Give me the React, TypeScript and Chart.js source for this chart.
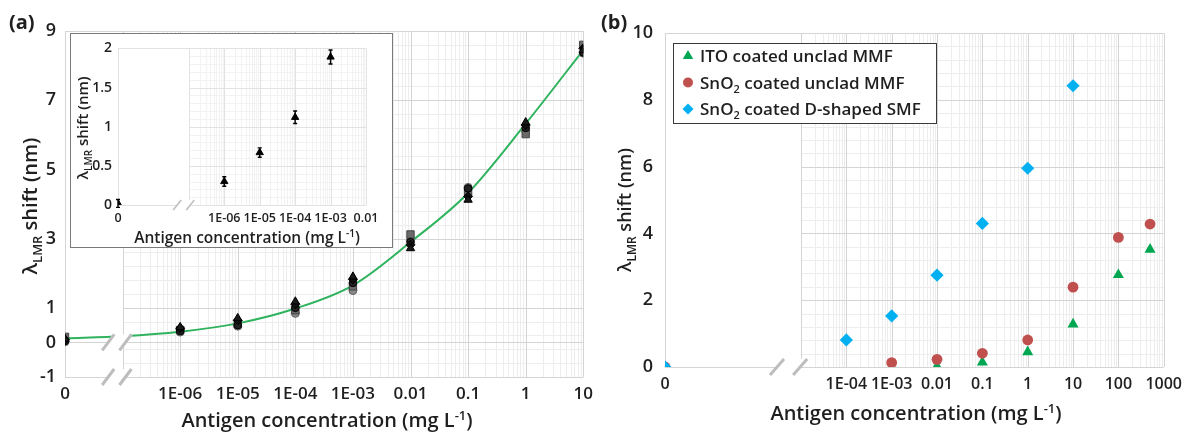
import React, { useEffect, useRef } from "react";
import { Chart, registerables } from "chart.js";

Chart.register(...registerables);

const FONT = "'Open Sans', Lato, 'DejaVu Sans', sans-serif";
const WEIGHT = "600";
const INK = "#1f1f1f";

// ---------- Panel (a): repeated measurements ----------
const A_CONC = [0, 1e-6, 1e-5, 1e-4, 1e-3, 0.01, 0.1, 1, 10];
const A_RUN1_TRIANGLE = [0.1, 0.44, 0.7, 1.18, 1.9, 2.72, 4.12, 6.36, 8.44];
const A_RUN2_DIAMOND = [0.08, 0.41, 0.64, 1.1, 1.82, 2.82, 4.22, 6.28, 8.5];
const A_RUN3_CIRCLE = [0.04, 0.33, 0.5, 1.0, 1.72, 2.9, 4.45, 6.2, 8.38];
const A_RUN4_SQUARE = [0.16, 0.36, 0.53, 0.93, 1.62, 3.12, 4.36, 6.02, 8.6];
const A_RUN5_CIRCLE = [0.02, 0.3, 0.47, 0.84, 1.5, 2.96, 4.48, 6.12, 8.36];
const A_FIT_CONC = [0, 1e-7, 1e-6, 1e-5, 1e-4, 1e-3, 0.01, 0.1, 1, 10];
const A_FIT_SHIFT = [0.12, 0.18, 0.31, 0.55, 0.98, 1.65, 2.9, 4.32, 6.32, 8.45];
const A_TICK_CONC = [0, 1e-6, 1e-5, 1e-4, 1e-3, 0.01, 0.1, 1, 10];
const A_TICK_LABELS = ["0", "1E-06", "1E-05", "1E-04", "1E-03", "0.01", "0.1", "1", "10"];
const A_Y_TICKS = [-1, 0, 1, 3, 5, 7, 9];

// ---------- Inset: mean with error bars ----------
const INSET_CONC = [0, 1e-6, 1e-5, 1e-4, 1e-3];
const INSET_SHIFT = [0.02, 0.3, 0.67, 1.12, 1.89];
const INSET_ERR = [0.05, 0.06, 0.06, 0.08, 0.09];
const INSET_TICK_CONC = [0, 1e-6, 1e-5, 1e-4, 1e-3, 0.01];
const INSET_TICK_LABELS = ["0", "1E-06", "1E-05", "1E-04", "1E-03", "0.01"];
const INSET_Y_TICKS = [0, 0.5, 1, 1.5, 2];

// ---------- Panel (b) ----------
const B_ITO_CONC = [0, 1e-3, 0.01, 0.1, 1, 10, 100, 500];
const B_ITO_SHIFT = [0, 0, 0.02, 0.14, 0.45, 1.28, 2.76, 3.52];
const B_SNO2_CONC = [0, 1e-3, 0.01, 0.1, 1, 10, 100, 500];
const B_SNO2_SHIFT = [0, 0.13, 0.23, 0.41, 0.81, 2.39, 3.88, 4.28];
const B_DSMF_CONC = [0, 1e-4, 1e-3, 0.01, 0.1, 1, 10];
const B_DSMF_SHIFT = [0, 0.81, 1.53, 2.75, 4.3, 5.95, 8.42];
const B_TICK_CONC = [0, 1e-4, 1e-3, 0.01, 0.1, 1, 10, 100, 1000];
const B_TICK_LABELS = ["0", "1E-04", "1E-03", "0.01", "0.1", "1", "10", "100", "1000"];
const B_Y_TICKS = [0, 2, 4, 6, 8, 10];
const B_LABELS = ["ITO coated unclad MMF", "SnO₂ coated unclad MMF", "SnO₂ coated D-shaped SMF"];

// axis position (in decades) used for the "0" concentration on each broken axis
const A_ZERO = -8;
const INSET_ZERO = -9;
const B_ZERO = -8;

const toX = (c: number, zero: number) => (c === 0 ? zero : Math.log10(c));
const pts = (conc: number[], vals: number[], zero: number) =>
  conc.map((c, i) => ({ x: toX(c, zero), y: vals[i] }));

type Seg = { t: string; sub?: boolean; sup?: boolean };
const parseSub = (s: string): Seg[] =>
  s.split(/(₂)/).filter(Boolean).map((p) => (p === "₂" ? { t: "2", sub: true } : { t: p }));

const Y_TITLE: Seg[] = [{ t: "λ" }, { t: "LMR", sub: true }, { t: " shift (nm)" }];
const X_TITLE: Seg[] = [{ t: "Antigen concentration (mg L" }, { t: "-1", sup: true }, { t: ")" }];

function drawRich(
  ctx: CanvasRenderingContext2D,
  segs: Seg[],
  x: number,
  y: number,
  size: number,
  rotate = false,
  align: "left" | "center" = "center"
) {
  ctx.save();
  ctx.translate(x, y);
  if (rotate) ctx.rotate(-Math.PI / 2);
  const fontFor = (s: Seg) => `${WEIGHT} ${s.sub || s.sup ? Math.round(size * 0.66) : size}px ${FONT}`;
  let total = 0;
  for (const s of segs) {
    ctx.font = fontFor(s);
    total += ctx.measureText(s.t).width;
  }
  let cx = align === "center" ? -total / 2 : 0;
  ctx.fillStyle = INK;
  ctx.textAlign = "left";
  ctx.textBaseline = "alphabetic";
  const base = size * 0.36;
  for (const s of segs) {
    ctx.font = fontFor(s);
    const dy = s.sub ? size * 0.24 : s.sup ? -size * 0.38 : 0;
    ctx.fillText(s.t, cx, base + dy);
    cx += ctx.measureText(s.t).width;
  }
  ctx.restore();
}

function drawMarker(ctx: CanvasRenderingContext2D, style: string, x: number, y: number, r: number, fill: string) {
  ctx.beginPath();
  if (style === "triangle") {
    ctx.moveTo(x, y - r);
    ctx.lineTo(x + r * 0.866, y + r * 0.5);
    ctx.lineTo(x - r * 0.866, y + r * 0.5);
    ctx.closePath();
  } else if (style === "rectRot") {
    ctx.moveTo(x, y - r);
    ctx.lineTo(x + r, y);
    ctx.lineTo(x, y + r);
    ctx.lineTo(x - r, y);
    ctx.closePath();
  } else {
    ctx.arc(x, y, r, 0, Math.PI * 2);
  }
  ctx.fillStyle = fill;
  ctx.fill();
}

const decor = {
  id: "decor",
  beforeDatasetsDraw(chart: any, _a: any, o: any) {
    const ctx: CanvasRenderingContext2D = chart.ctx;
    const xs = chart.scales.x;
    const ys = chart.scales.y;
    const { left, right, top, bottom } = chart.chartArea;
    const px = (v: number) => Math.round(xs.getPixelForValue(v)) + 0.5;
    const py = (v: number) => Math.round(ys.getPixelForValue(v)) + 0.5;
    const seg = (x1: number, y1: number, x2: number, y2: number, c: string) => {
      ctx.strokeStyle = c;
      ctx.beginPath();
      ctx.moveTo(x1, y1);
      ctx.lineTo(x2, y2);
      ctx.stroke();
    };
    ctx.save();
    ctx.lineWidth = 1;
    const gx0 = px(o.gridStart);
    for (let d = o.gridStart; d < xs.max; d++)
      for (let k = 2; k < 10; k++) {
        const x = px(d + Math.log10(k));
        seg(x, top, x, bottom, o.minor);
      }
    const n = Math.round((ys.max - ys.min) / o.yMinor);
    for (let i = 1; i < n; i++) {
      const y = py(ys.min + i * o.yMinor);
      seg(gx0, y, right, y, o.minor);
    }
    for (let d = o.gridStart; d <= xs.max; d++) {
      const x = px(d);
      seg(x, top, x, bottom, o.major);
    }
    for (const v of o.yMajor) {
      const y = py(v);
      seg(gx0, y, right, y, o.major);
    }
    for (const v of o.fullY) {
      const y = py(v);
      seg(left, y, right, y, o.major);
    }
    const lx = Math.round(left) + 0.5;
    seg(lx, top, lx, bottom, o.major);

    if (o.errors) {
      const meta = chart.getDatasetMeta(o.errors.dataset);
      const data = chart.data.datasets[o.errors.dataset].data;
      ctx.strokeStyle = "#000";
      ctx.lineWidth = 1.4;
      meta.data.forEach((el: any, i: number) => {
        const e = o.errors.err[i];
        const y1 = ys.getPixelForValue(data[i].y + e);
        const y2 = ys.getPixelForValue(data[i].y - e);
        ctx.beginPath();
        ctx.moveTo(el.x, y1);
        ctx.lineTo(el.x, y2);
        ctx.moveTo(el.x - 2, y1);
        ctx.lineTo(el.x + 2, y1);
        ctx.moveTo(el.x - 2, y2);
        ctx.lineTo(el.x + 2, y2);
        ctx.stroke();
      });
    }
    ctx.restore();
  },
  afterDatasetsDraw(chart: any, _a: any, o: any) {
    const ctx: CanvasRenderingContext2D = chart.ctx;
    const xs = chart.scales.x;
    const ys = chart.scales.y;
    ctx.save();
    const [b1, b2] = o.breaks;
    const x1 = xs.getPixelForValue(b1);
    const x2 = xs.getPixelForValue(b2);
    const { dx, dy } = o.breakSize;
    for (const v of o.breakY) {
      const y = ys.getPixelForValue(v);
      ctx.fillStyle = "#ffffff";
      ctx.beginPath();
      ctx.moveTo(x1 - dx, y + dy);
      ctx.lineTo(x1 + dx, y - dy);
      ctx.lineTo(x2 + dx, y - dy);
      ctx.lineTo(x2 - dx, y + dy);
      ctx.closePath();
      ctx.fill();
      ctx.strokeStyle = "#bdbdbd";
      ctx.lineWidth = o.breakWidth;
      for (const x of [x1, x2]) {
        ctx.beginPath();
        ctx.moveTo(x - dx, y + dy);
        ctx.lineTo(x + dx, y - dy);
        ctx.stroke();
      }
    }
    ctx.restore();
  },
  afterDraw(chart: any, _a: any, o: any) {
    const ctx: CanvasRenderingContext2D = chart.ctx;
    drawRich(ctx, Y_TITLE, o.yTitle.x, o.yTitle.y, o.yTitle.size, true);
    drawRich(ctx, X_TITLE, o.xTitle.x, o.xTitle.y, o.xTitle.size, false);
    if (o.legend) {
      const L = o.legend;
      ctx.save();
      ctx.fillStyle = "#fff";
      ctx.fillRect(L.x, L.y, L.w, L.h);
      ctx.strokeStyle = "#3a3a3a";
      ctx.lineWidth = 1;
      ctx.strokeRect(L.x + 0.5, L.y + 0.5, L.w, L.h);
      chart.data.datasets.forEach((ds: any, i: number) => {
        const cy = L.firstRow + i * L.rowH;
        drawMarker(ctx, ds.pointStyle, L.markerX, cy, L.markerR[i], ds.backgroundColor);
        drawRich(ctx, parseSub(ds.label), L.textX, cy, L.size, false, "left");
      });
      ctx.restore();
    }
  },
};

function ChartCanvas({ config, width, height }: { config: any; width: number; height: number }) {
  const ref = useRef<HTMLCanvasElement>(null);
  useEffect(() => {
    if (!ref.current) return;
    const chart = new Chart(ref.current, config);
    return () => chart.destroy();
  }, []);
  return <canvas ref={ref} width={width} height={height} style={{ display: "block", width, height }} />;
}

const fixedTicks = (values: number[]) => (scale: any) => {
  scale.ticks = values.map((v) => ({ value: v }));
};

function axes(opt: {
  xMin: number;
  xMax: number;
  yMin: number;
  yMax: number;
  xTicks: number[];
  xLabels: string[];
  yTicks: number[];
  yWidth: number;
  xHeight: number;
  xFont: number;
  yFont: number;
  xPad: number;
  yPad: number;
}) {
  return {
    x: {
      type: "linear",
      min: opt.xMin,
      max: opt.xMax,
      afterBuildTicks: fixedTicks(opt.xTicks),
      afterFit: (s: any) => {
        s.height = opt.xHeight;
      },
      grid: { display: false, drawTicks: false },
      border: { display: false },
      ticks: {
        autoSkip: false,
        maxRotation: 0,
        padding: opt.xPad,
        color: INK,
        font: { family: FONT, size: opt.xFont, weight: WEIGHT },
        callback: (_v: any, i: number) => opt.xLabels[i],
      },
    },
    y: {
      type: "linear",
      min: opt.yMin,
      max: opt.yMax,
      afterBuildTicks: fixedTicks(opt.yTicks),
      afterFit: (s: any) => {
        s.width = opt.yWidth;
      },
      grid: { display: false, drawTicks: false },
      border: { display: false },
      ticks: {
        padding: opt.yPad,
        color: INK,
        font: { family: FONT, size: opt.yFont, weight: WEIGHT },
        callback: (v: any) => String(v),
      },
    },
  };
}

const baseOptions = {
  responsive: false,
  animation: false,
  events: [],
  plugins: { legend: { display: false }, tooltip: { enabled: false } },
};

const markerA = (label: string, data: number[], style: string, r: number, fill: string, border: string) => ({
  type: "scatter",
  label,
  data: pts(A_CONC, data, A_ZERO),
  pointStyle: style,
  pointRadius: r,
  backgroundColor: fill,
  borderColor: border,
  borderWidth: 1,
  order: 1,
});

const configA = {
  type: "scatter",
  data: {
    datasets: [
      markerA("Run 1", A_RUN1_TRIANGLE, "triangle", 4.8, "#1a1a1a", "#000"),
      markerA("Run 2", A_RUN2_DIAMOND, "rectRot", 4.5, "#111", "#000"),
      markerA("Run 3", A_RUN3_CIRCLE, "circle", 3.8, "#222", "#000"),
      markerA("Run 4", A_RUN4_SQUARE, "rect", 5.2, "#6a6a6a", "#444"),
      markerA("Run 5", A_RUN5_CIRCLE, "circle", 4, "#8a8a8a", "#606060"),
      {
        type: "line",
        label: "Fit",
        data: pts(A_FIT_CONC, A_FIT_SHIFT, A_ZERO),
        borderColor: "#2fb35e",
        borderWidth: 2,
        pointRadius: 0,
        cubicInterpolationMode: "monotone",
        order: 5,
      },
    ],
  },
  options: {
    ...baseOptions,
    layout: { padding: { left: 0, right: 11, top: 31, bottom: 0 } },
    scales: axes({
      xMin: A_ZERO,
      xMax: 1,
      yMin: -1,
      yMax: 9,
      xTicks: A_TICK_CONC.map((c) => toX(c, A_ZERO)),
      xLabels: A_TICK_LABELS,
      yTicks: A_Y_TICKS,
      yWidth: 65,
      xHeight: 55,
      xFont: 17,
      yFont: 18,
      xPad: 7,
      yPad: 9,
    }),
    plugins: {
      ...baseOptions.plugins,
      decor: {
        gridStart: -7,
        yMinor: 0.4,
        yMajor: [1, 3, 5, 7],
        fullY: [-1, 0, 9],
        major: "#d4d4d4",
        minor: "#ededed",
        breaks: [-7.25, -6.95],
        breakY: [0, -1],
        breakSize: { dx: 6, dy: 8 },
        breakWidth: 3,
        yTitle: { x: 30, y: 206, size: 20 },
        xTitle: { x: 327, y: 420, size: 20 },
      },
    },
  },
  plugins: [decor],
};

const configInset = {
  type: "scatter",
  data: {
    datasets: [
      {
        label: "Mean",
        data: pts(INSET_CONC, INSET_SHIFT, INSET_ZERO),
        pointStyle: "triangle",
        pointRadius: 4.2,
        backgroundColor: "#000",
        borderColor: "#000",
        borderWidth: 1,
      },
    ],
  },
  options: {
    ...baseOptions,
    layout: { padding: { left: 0, right: 26, top: 9, bottom: 0 } },
    scales: axes({
      xMin: INSET_ZERO,
      xMax: -2,
      yMin: 0,
      yMax: 2,
      xTicks: INSET_TICK_CONC.map((c) => toX(c, INSET_ZERO)),
      xLabels: INSET_TICK_LABELS,
      yTicks: INSET_Y_TICKS,
      yWidth: 47,
      xHeight: 42,
      xFont: 12.5,
      yFont: 14,
      xPad: 6,
      yPad: 6,
    }),
    plugins: {
      ...baseOptions.plugins,
      decor: {
        gridStart: -7,
        yMinor: 0.1,
        yMajor: [0.5, 1, 1.5],
        fullY: [0, 2],
        major: "#e2e2e2",
        minor: "#f2f2f2",
        errors: { dataset: 0, err: INSET_ERR },
        breaks: [-7.33, -6.96],
        breakY: [0],
        breakSize: { dx: 4, dy: 5 },
        breakWidth: 1.5,
        yTitle: { x: 12, y: 94, size: 15 },
        xTitle: { x: 176, y: 203, size: 15.5 },
      },
    },
  },
  plugins: [decor],
};

const markerB = (label: string, conc: number[], vals: number[], style: string, r: number, color: string, order: number) => ({
  label,
  data: pts(conc, vals, B_ZERO),
  pointStyle: style,
  pointRadius: r,
  backgroundColor: color,
  borderColor: color,
  borderWidth: 0,
  order,
});

const configB = {
  type: "scatter",
  data: {
    datasets: [
      markerB(B_LABELS[0], B_ITO_CONC, B_ITO_SHIFT, "triangle", 6.4, "#00a650", 3),
      markerB(B_LABELS[1], B_SNO2_CONC, B_SNO2_SHIFT, "circle", 5.4, "#c0504d", 2),
      markerB(B_LABELS[2], B_DSMF_CONC, B_DSMF_SHIFT, "rectRot", 6.6, "#00b0f0", 1),
    ],
  },
  options: {
    ...baseOptions,
    layout: { padding: { left: 0, right: 23, top: 33, bottom: 0 } },
    scales: axes({
      xMin: B_ZERO,
      xMax: 3,
      yMin: 0,
      yMax: 10,
      xTicks: B_TICK_CONC.map((c) => toX(c, B_ZERO)),
      xLabels: B_TICK_LABELS,
      yTicks: B_Y_TICKS,
      yWidth: 65,
      xHeight: 65,
      xFont: 16,
      yFont: 18,
      xPad: 8,
      yPad: 12,
    }),
    plugins: {
      ...baseOptions.plugins,
      decor: {
        gridStart: -5,
        yMinor: 0.4,
        yMajor: [2, 4, 6, 8],
        fullY: [0, 10],
        major: "#d4d4d4",
        minor: "#ededed",
        breaks: [-5.53, -5.02],
        breakY: [0],
        breakSize: { dx: 7, dy: 8 },
        breakWidth: 3,
        yTitle: { x: 25, y: 210, size: 18 },
        xTitle: { x: 316, y: 413, size: 20 },
        legend: {
          x: 73,
          y: 43,
          w: 263,
          h: 80,
          firstRow: 56,
          rowH: 26.5,
          markerX: 88,
          markerR: [6, 5, 5.5],
          textX: 100,
          size: 17,
        },
      },
    },
  },
  plugins: [decor],
};

export default function App() {
  return (
    <div
      style={{
        position: "absolute",
        left: 0,
        top: 0,
        width: 1190,
        height: 432,
        background: "#fff",
        overflow: "hidden",
        fontFamily: FONT,
      }}
    >
      <div style={{ position: "absolute", left: 0, top: 0 }}>
        <ChartCanvas config={configA} width={600} height={432} />
      </div>
      <div
        style={{
          position: "absolute",
          left: 70,
          top: 33,
          width: 321,
          height: 213,
          border: "1px solid #7a7a7a",
          background: "#fff",
        }}
      >
        <ChartCanvas config={configInset} width={321} height={213} />
      </div>
      <div style={{ position: "absolute", left: 600, top: 0 }}>
        <ChartCanvas config={configB} width={590} height={432} />
      </div>
      <div style={{ position: "absolute", left: 9, top: 9, fontWeight: 700, fontSize: 20, color: INK, lineHeight: "26px" }}>
        (a)
      </div>
      <div style={{ position: "absolute", left: 601, top: 9, fontWeight: 700, fontSize: 20, color: INK, lineHeight: "26px" }}>
        (b)
      </div>
    </div>
  );
}
